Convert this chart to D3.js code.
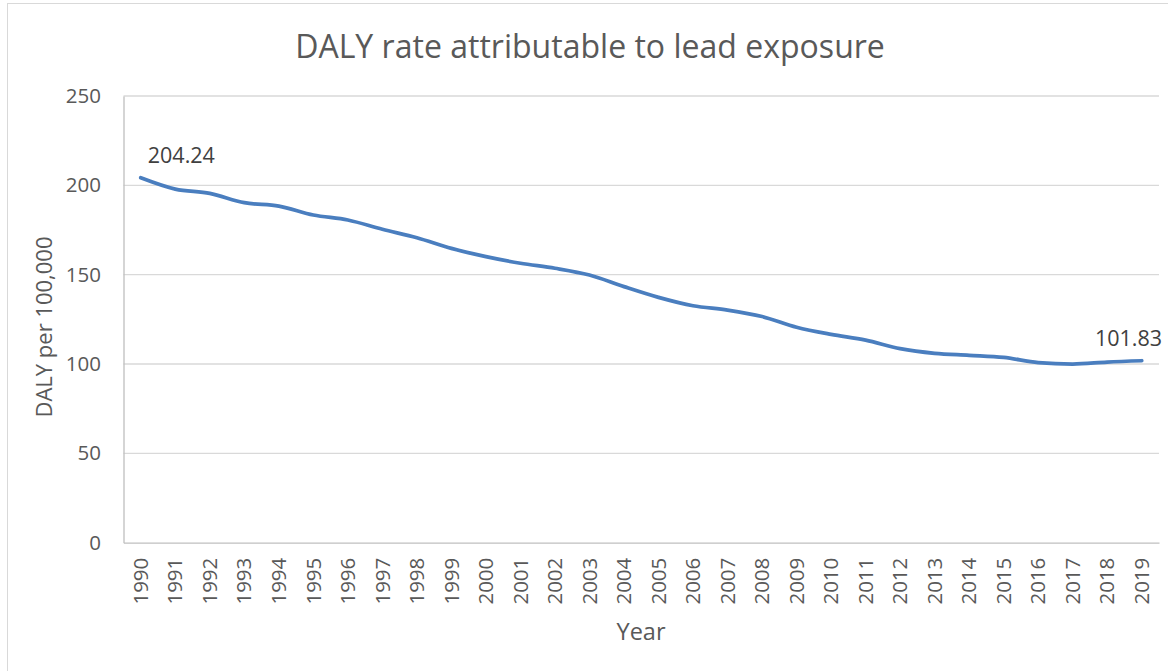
<!DOCTYPE html>
<html><head><meta charset="utf-8">
<script src="https://cdn.jsdelivr.net/npm/d3@7"></script>
<style>html,body{margin:0;padding:0;background:#fff;overflow:hidden}</style>
</head><body>
<svg id="chart" width="1168" height="671"></svg>
<script>
const years = [1990,1991,1992,1993,1994,1995,1996,1997,1998,1999,2000,2001,2002,2003,2004,2005,2006,2007,2008,2009,2010,2011,2012,2013,2014,2015,2016,2017,2018,2019];
const dalyRate = [204.24,197.9,195.5,190.3,188.4,183.4,180.6,175.4,170.7,164.7,160.1,156.4,153.6,149.8,143.3,137.3,132.6,130.2,126.6,120.6,116.6,113.4,108.6,106.0,104.9,103.7,100.8,100.0,101.1,101.83];
const yTicks = [0,50,100,150,200,250];
const labelledIdx = [0,29];
const titleText = "DALY rate attributable to lead exposure";
const yTitle = "DALY per 100,000";
const xTitle = "Year";

(function(){
const svg = d3.select("#chart");
const font = "'Open Sans', 'Liberation Sans', sans-serif";
const textCol = "#595959";
const pLeft = 123.5, pRight = 1159, pTop = 96, pBottom = 542.7;

svg.append("rect").attr("x",7.5).attr("y",3.5).attr("width",1200).attr("height",700)
  .attr("fill","#fff").attr("stroke","#d9d9d9").attr("stroke-width",1);

const x = d3.scaleBand().domain(years).range([pLeft,pRight]).padding(0);
const y = d3.scaleLinear().domain([0,250]).range([pBottom,pTop]);

svg.append("g").selectAll("line").data(yTicks.filter(d=>d>0)).join("line")
  .attr("x1",pLeft).attr("x2",pRight).attr("y1",d=>y(d)).attr("y2",d=>y(d))
  .attr("stroke","#d9d9d9").attr("stroke-width",1.3);

const ya = svg.append("g").attr("transform",`translate(${pLeft},0)`)
  .call(d3.axisLeft(y).tickValues(yTicks).tickSize(0).tickPadding(22.5));
ya.select(".domain").attr("stroke","#bfbfbf").attr("stroke-width",1.3);
ya.selectAll("text").attr("font-family",font).attr("font-size",20.5).attr("fill",textCol);

const xa = svg.append("g").attr("transform",`translate(0,${pBottom})`)
  .call(d3.axisBottom(x).tickSize(0).tickFormat(d=>String(d)));
xa.select(".domain").attr("stroke","#bfbfbf").attr("stroke-width",1.3);
xa.selectAll("text").attr("font-family",font).attr("font-size",20.5).attr("fill",textCol)
  .attr("transform","rotate(-90)").attr("text-anchor","end")
  .attr("x",-15).attr("y",0).attr("dy","0.35em");

const line = d3.line().x((d,i)=>x(years[i])+x.bandwidth()/2).y(d=>y(d)).curve(d3.curveMonotoneX);
svg.append("path").datum(dalyRate).attr("d",line).attr("fill","none")
  .attr("stroke","#4A7EBF").attr("stroke-width",3.75).attr("stroke-linecap","round").attr("stroke-linejoin","round");

svg.append("g").selectAll("text").data(labelledIdx).join("text")
  .attr("x",i=>i===0 ? x(years[i])+x.bandwidth()/2 + 7 : 1162)
  .attr("text-anchor",i=>i===0?"start":"end")
  .attr("y",i=>y(dalyRate[i]) - 15)
  .attr("font-family",font).attr("font-size",21.5).attr("fill","#404040")
  .text(i=>dalyRate[i].toFixed(2));

const t = svg.append("text").attr("x",590).attr("y",58).attr("text-anchor","middle")
  .attr("font-family",font).attr("font-size",30).attr("fill",textCol).text(titleText);
const w = t.node().getComputedTextLength();
t.attr("font-size",30*590/w);

svg.append("text").attr("transform","translate(52,327) rotate(-90)").attr("text-anchor","middle")
  .attr("font-family",font).attr("font-size",22).attr("fill",textCol).text(yTitle);
svg.append("text").attr("x",641).attr("y",640).attr("text-anchor","middle")
  .attr("font-family",font).attr("font-size",23.5).attr("fill",textCol).text(xTitle);
})();
</script>
</body></html>
